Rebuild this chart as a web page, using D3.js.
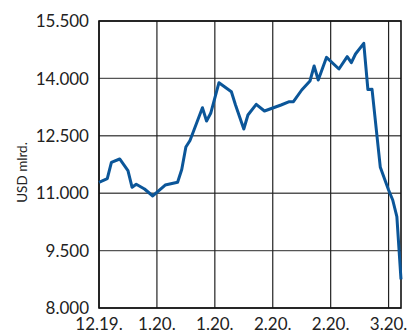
<!DOCTYPE html>
<html>
<head>
<meta charset="utf-8">
<script src="https://cdn.jsdelivr.net/npm/d3@7"></script>
<style>
  html, body { margin: 0; padding: 0; background: #fff; }
  svg { display: block; }
  text { font-family: Lato, "Open Sans", sans-serif; fill: #222; }
</style>
</head>
<body>
<svg id="chart" width="407" height="332"></svg>
<script>
// Observation dates (days since 24 Dec 2019) and values, USD bn
const dayOffsets = [0, 2, 3, 5, 7, 8, 9, 11, 13, 16, 19, 20, 21, 22, 25, 26, 27, 29, 32, 33,
  35, 36, 38, 40, 41, 44, 46, 47, 49, 51, 52, 53, 55, 58, 60, 61, 62, 64, 65, 66,
  68, 70, 71, 72, 73];
const values = [11285, 11379, 11807, 11894, 11588, 11154, 11233, 11110, 10927, 11214,
  11285, 11619, 12207, 12377, 13234, 12887, 13088, 13888, 13652, 13305,
  12678, 13044, 13323, 13148, 13187, 13305, 13391, 13391, 13697, 13932,
  14324, 13958, 14551, 14246, 14567, 14410, 14638, 14917, 13710, 13715,
  11677, 11084, 10822, 10386, 8750];
const yTicks = [8000, 9500, 11000, 12500, 14000, 15500];
const xTickOffsets = [0, 14, 28, 42, 56, 70];
const yLabel = "USD mlrd.";

const startDate = new Date(2019, 11, 24);
const addDays = n => d3.timeDay.offset(startDate, n);
const data = dayOffsets.map((d, i) => ({ date: addDays(d), value: values[i] }));

const svg = d3.select("#chart");
const plot = { left: 99, right: 401, top: 21, bottom: 308 };

const x = d3.scaleTime().domain([startDate, addDays(73)]).range([plot.left, plot.right]);
const y = d3.scaleLinear().domain([8000, 15500]).range([plot.bottom, plot.top]);

// thousands separator is a dot
const fmt = v => d3.format(",")(v).replace(/,/g, ".");
const dateFmt = d3.timeFormat("%-m.%y.");

// grid lines
svg.append("g").selectAll("line").data(yTicks).join("line")
  .attr("x1", plot.left).attr("x2", plot.right)
  .attr("y1", d => y(d)).attr("y2", d => y(d))
  .attr("stroke", "#555").attr("stroke-width", 1.4);
svg.append("g").selectAll("line").data(xTickOffsets).join("line")
  .attr("x1", d => x(addDays(d))).attr("x2", d => x(addDays(d)))
  .attr("y1", plot.top).attr("y2", plot.bottom)
  .attr("stroke", "#222").attr("stroke-width", 1.2);

// frame
svg.append("rect")
  .attr("x", plot.left).attr("y", plot.top)
  .attr("width", plot.right - plot.left).attr("height", plot.bottom - plot.top)
  .attr("fill", "none").attr("stroke", "#111").attr("stroke-width", 1.6);

// y tick labels
svg.append("g").selectAll("text").data(yTicks).join("text")
  .attr("x", plot.left - 10).attr("y", d => y(d))
  .attr("dy", "0.36em")
  .attr("text-anchor", "end")
  .style("font-size", "17px")
  .text(fmt);

// x tick labels
svg.append("g").selectAll("text").data(xTickOffsets).join("text")
  .attr("x", d => x(addDays(d))).attr("y", 330)
  .attr("text-anchor", "middle")
  .style("font-size", "17px")
  .text(d => dateFmt(addDays(d)));

// y axis title
svg.append("text")
  .attr("transform", `translate(27,${(plot.top + plot.bottom) / 2 + 8}) rotate(-90)`)
  .attr("text-anchor", "middle")
  .style("font-size", "13.5px")
  .text(yLabel);

// series line
const line = d3.line().x(d => x(d.date)).y(d => y(d.value));
svg.append("path").datum(data)
  .attr("d", line)
  .attr("fill", "none")
  .attr("stroke", "#0b5699")
  .attr("stroke-width", 3)
  .attr("stroke-linejoin", "round")
  .attr("stroke-linecap", "butt");
</script>
</body>
</html>
